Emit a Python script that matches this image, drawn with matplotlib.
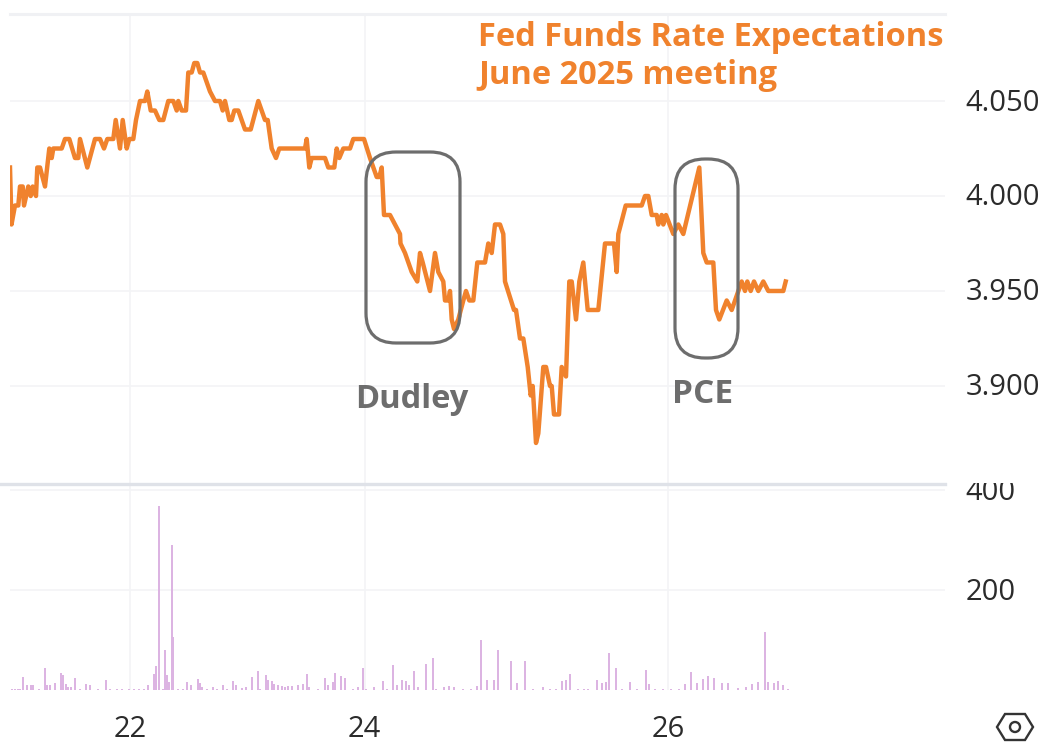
import matplotlib
matplotlib.use('Agg')
import matplotlib.pyplot as plt
from matplotlib.patches import FancyBboxPatch, Polygon, Circle, Rectangle
from matplotlib.transforms import Affine2D, ScaledTranslation

W, H = 1052, 742
plt.rcParams['font.family'] = ['Open Sans', 'DejaVu Sans']
plt.rcParams['ytick.alignment'] = 'center'

# x is the chart's session position, days are not evenly spaced on it
day_ticks = [130, 364.5, 668]
day_labels = ['22', '24', '26']

rate_x = [10, 11.5, 15, 18.3, 20, 22.7, 24, 28.3, 30.7, 32.7, 36, 37.3, 40, 45, 49.3, 51.7, 53.3, 61.7, 65, 69.3,
          75, 78.3, 80, 87.3, 95, 100, 104, 107.3, 113.3, 115.7, 120, 122.7, 126.7, 129.3, 133.3, 136, 140, 145,
          147.3, 150.7, 155, 159.3, 163.3, 168.3, 173.3, 176.7, 178.3, 181.7, 186, 188.3, 191.7, 194.3, 197.3,
          200, 203.3, 210, 215, 220, 222.7, 225, 229.3, 231.7, 234.3, 238.3, 245, 250.7, 258.3, 265, 267.7,
          271.7, 276, 279.3, 305, 306.7, 309.3, 311.7, 325, 328.3, 334.3, 336.7, 339.3, 343.3, 350, 353.3, 364,
          370, 376.7, 379.3, 381.7, 384, 390, 395, 400, 400.5, 405, 411.7, 417.3, 420, 422.7, 430, 435, 438.3,
          443.3, 445, 448.3, 450, 451.7, 454, 458.3, 463.3, 466, 469.3, 473.3, 477.3, 485, 488.3, 491.7, 495,
          500, 503.3, 505, 514, 516, 520, 523.3, 527.7, 530.7, 532.7, 536, 538.3, 543.3, 546, 550, 551.7, 554,
          559, 561.7, 566, 569.3, 571.7, 576, 579.3, 583.3, 587.7, 598.3, 605, 614, 616.7, 618.3, 625.7, 641.7,
          645, 648.3, 651.7, 656.7, 658.3, 661.7, 663.3, 666, 673.3, 678.3, 683.3, 699.3, 703.3, 706.7, 713.3,
          716, 719.3, 726.7, 731.7, 735, 741.7, 745, 747.3, 750.7, 754, 758.3, 763.3, 768.3, 783.3, 785.7]
rate_y = [4.015, 3.985, 3.995, 3.995, 4.005, 4.005, 3.995, 4.005, 4.0, 4.005, 4.0, 4.015, 4.015, 4.005, 4.025,
          4.02, 4.025, 4.025, 4.03, 4.03, 4.02, 4.02, 4.03, 4.015, 4.03, 4.03, 4.025, 4.03, 4.03, 4.04, 4.025,
          4.04, 4.025, 4.03, 4.03, 4.04, 4.05, 4.05, 4.055, 4.045, 4.045, 4.04, 4.04, 4.05, 4.05, 4.045, 4.05,
          4.045, 4.045, 4.065, 4.065, 4.07, 4.07, 4.065, 4.065, 4.055, 4.05, 4.05, 4.045, 4.05, 4.04, 4.04,
          4.045, 4.045, 4.035, 4.035, 4.05, 4.04, 4.04, 4.025, 4.02, 4.025, 4.025, 4.03, 4.015, 4.02, 4.02,
          4.015, 4.015, 4.025, 4.02, 4.025, 4.025, 4.03, 4.03, 4.02, 4.01, 4.01, 4.015, 3.99, 3.99, 3.985, 3.98,
          3.975, 3.97, 3.96, 3.955, 3.97, 3.965, 3.95, 3.97, 3.96, 3.955, 3.945, 3.945, 3.95, 3.935, 3.93, 3.935,
          3.945, 3.95, 3.945, 3.945, 3.965, 3.965, 3.975, 3.97, 3.985, 3.985, 3.98, 3.955, 3.94, 3.94, 3.925,
          3.925, 3.91, 3.895, 3.9, 3.87, 3.875, 3.91, 3.91, 3.9, 3.9, 3.885, 3.885, 3.91, 3.905, 3.955, 3.955,
          3.935, 3.955, 3.965, 3.94, 3.94, 3.975, 3.975, 3.96, 3.98, 3.995, 3.995, 4.0, 4.0, 3.99, 3.99, 3.985,
          3.99, 3.985, 3.99, 3.98, 3.985, 3.98, 4.015, 3.97, 3.965, 3.965, 3.94, 3.935, 3.945, 3.94, 3.945,
          3.955, 3.95, 3.955, 3.95, 3.955, 3.95, 3.955, 3.95, 3.95, 3.955]

vol_x = [12, 15, 18, 20, 23, 27, 31, 33, 39, 45, 47, 50, 55, 61, 63, 66, 68, 71, 75, 80, 86, 90, 98, 106, 110, 117,
         122, 129, 134, 139, 144, 148, 154, 156, 159, 163, 165, 167, 169, 172, 173, 178, 183, 187, 191, 198, 200,
         202, 207, 213, 217, 223, 227, 233, 236, 242, 246, 252, 258, 260, 266, 268, 272, 274, 278, 282, 285, 288,
         292, 298, 303, 307, 309, 318, 325, 328, 333, 335, 341, 345, 353, 358, 363, 366, 374, 383, 387, 393, 397,
         402, 406, 409, 414, 418, 426, 433, 436, 444, 449, 454, 463, 471, 477, 481, 487, 494, 498, 511, 517, 525,
         533, 543, 550, 556, 562, 566, 570, 578, 584, 588, 597, 602, 606, 609, 616, 622, 630, 637, 646, 649, 655,
         663, 671, 679, 685, 691, 697, 703, 708, 714, 722, 728, 738, 746, 752, 758, 765, 768, 774, 778, 783, 788]
vol_v = [3, 3, 3, 3, 27, 10, 10, 10, 3, 45, 10, 10, 15, 35, 30, 13, 7, 7, 25, 3, 12, 10, 2, 20, 2, 3, 2, 3, 2, 2,
         3, 10, 33, 48, 368, 3, 80, 30, 17, 290, 107, 2, 2, 17, 10, 23, 15, 7, 2, 7, 2, 10, 2, 19, 10, 5, 7, 27, 39,
         3, 30, 20, 19, 13, 10, 8, 7, 8, 8, 10, 12, 32, 7, 2, 25, 10, 17, 35, 28, 25, 3, 7, 45, 3, 7, 19, 2, 50,
         10, 21, 19, 10, 39, 7, 52, 65, 3, 7, 8, 7, 3, 3, 8, 100, 21, 20, 81, 58, 15, 58, 3, 7, 3, 3, 19, 20,
         33, 3, 3, 3, 20, 15, 17, 75, 45, 3, 17, 3, 41, 13, 2, 2, 2, 3, 13, 37, 15, 23, 29, 25, 15, 15, 5, 7, 13,
         17, 117, 17, 15, 19, 10, 3]


def fx(px):
    return px / W


def fy(py):
    return 1 - py / H


fig = plt.figure(figsize=(W / 100, H / 100), dpi=100, facecolor='w')
ax = fig.add_axes([fx(10), fy(484), fx(935), (484 - 14) / H])
ax2 = fig.add_axes([fx(10), fy(690), fx(935), (690 - 484) / H])

ax.plot(rate_x, rate_y, color='#f0822d', lw=3.2, solid_joinstyle='round', zorder=3)
ax.set_xlim(10, 945)
ax.set_ylim(3.8484, 4.0958)
ax.set_yticks([3.9, 3.95, 4.0, 4.05])
ax.set_yticklabels(['3.900', '3.950', '4.000', '4.050'])

ax2.bar(vol_x, vol_v, width=1.8, color='#dcb4e2', zorder=3)
ax2.set_xlim(10, 945)
ax2.set_ylim(0, 412)
ax2.set_yticks([200, 400])
ax2.set_xticks(day_ticks)
ax2.set_xticklabels(day_labels)

for a in (ax, ax2):
    a.set_xticks(day_ticks)
    a.grid(True, color='#f3f4f6', lw=1.2)
    a.set_axisbelow(True)
    a.yaxis.tick_right()
    a.tick_params(axis='y', length=0, pad=15, labelsize=21, labelcolor='#2b2b2b')
    a.tick_params(axis='x', length=0)
    for s in ('top', 'right', 'bottom', 'left'):
        a.spines[s].set_visible(False)
    # nudge the value labels down a little
    for lab in a.get_yticklabels():
        lab.set_transform(lab.get_transform() + ScaledTranslation(0, -0.02, fig.dpi_scale_trans))

ax.tick_params(axis='x', labelbottom=False)
ax2.tick_params(axis='x', pad=18, labelsize=21, labelcolor='#2b2b2b')

# the 400 label is cut by the panel border, same as the original
fig.add_artist(Rectangle((fx(947), fy(483)), fx(105), 30 / H, fc='w', ec='none', zorder=5))

# panel borders
fig.add_artist(plt.Line2D([0, fx(945)], [fy(484), fy(484)], color='#dfe2e8', lw=2.4))
fig.add_artist(plt.Line2D([fx(10), fx(945)], [fy(14), fy(14)], color='#f0f1f4', lw=2.2))

# annotation boxes, given in picture pixels
to_px = Affine2D().scale(1, -1).translate(0, H)
for x0, y0, x1, y1 in [(366, 152, 460, 343), (675, 159, 738, 358)]:
    fig.add_artist(FancyBboxPatch((x0, y0), x1 - x0, y1 - y0, boxstyle='round,pad=0,rounding_size=30',
                                  fc='none', ec='#6d6d6d', lw=2.3, transform=to_px))

fig.text(fx(478), fy(38), 'Fed Funds Rate Expectations', color='#f0822d', fontsize=23.5, fontweight='bold', va='center')
fig.text(fx(478), fy(76), 'June 2025 meeting', color='#f0822d', fontsize=23.5, fontweight='bold', va='center')
fig.text(fx(355), fy(400), 'Dudley', color='#6d6d6d', fontsize=23.5, fontweight='bold', va='center')
fig.text(fx(672), fy(394), 'PCE', color='#6d6d6d', fontsize=24, fontweight='bold', va='center')

# settings icon bottom right
hexagon = [(997, 727), (1005, 714), (1025, 714), (1033, 727), (1025, 740), (1005, 740)]
fig.add_artist(Polygon(hexagon, closed=True, fc='none', ec='#333333', lw=1.7, transform=to_px))
fig.add_artist(Circle((1015, 727), 5, fc='none', ec='#333333', lw=1.7, transform=to_px))

fig.savefig('out.png', dpi=100)
